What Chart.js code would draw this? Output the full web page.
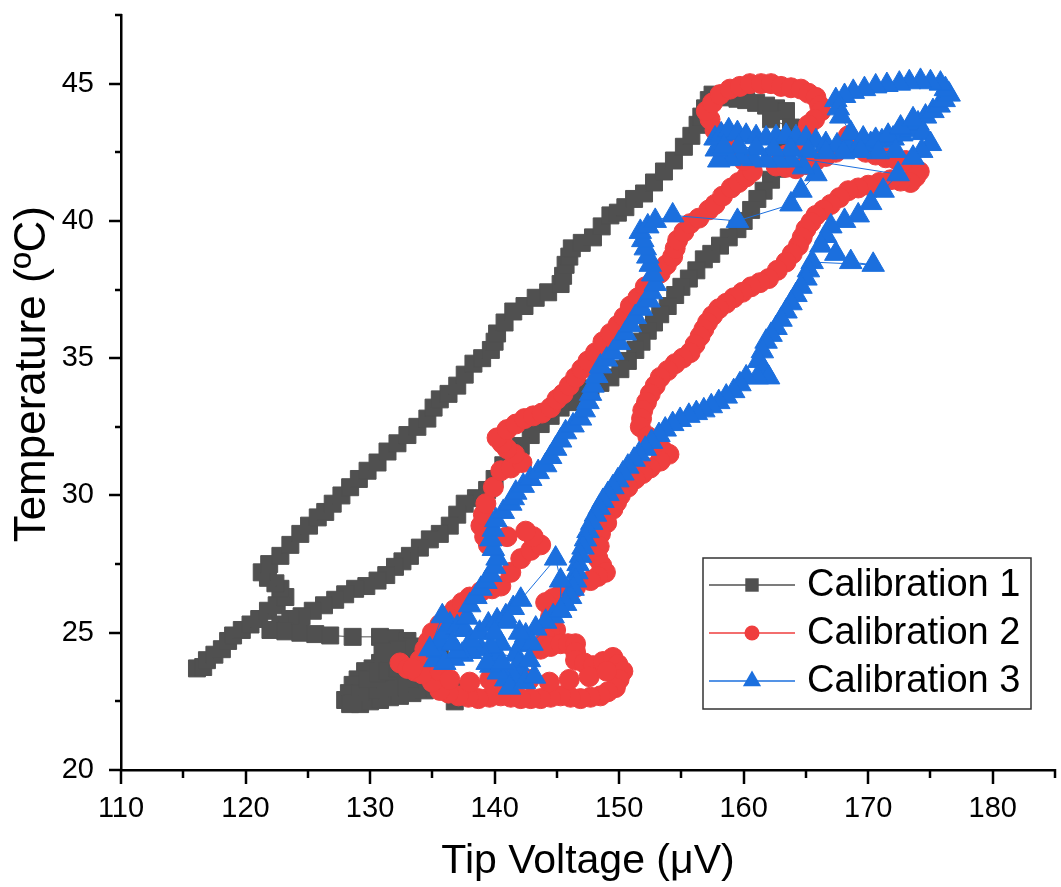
<!DOCTYPE html>
<html>
<head>
<meta charset="utf-8">
<script src="https://cdn.jsdelivr.net/npm/chart.js@4.4.1/dist/chart.umd.min.js"></script>
<style>
  html, body { margin: 0; padding: 0; background: #fff; }
  canvas { display: block; }
</style>
</head>
<body>
<canvas id="calibChart" width="1061" height="887"></canvas>
<script>
// Calibration runs: tip voltage (µV) vs temperature (ºC)
const cal1Volt = [116.1, 116.6, 116.9, 117.5, 118.1, 118.6, 119.0, 119.7, 120.4, 121.1, 121.8, 122.5, 123.2, 122.8, 122.4, 121.8, 121.3, 121.9, 122.8, 123.6, 124.4, 125.1, 125.8, 126.4, 127.0, 127.7, 128.4, 129.1, 129.8, 130.6, 131.4, 132.2, 133.0, 133.8, 134.6, 135.1, 135.6, 136.3, 137.0, 137.6, 138.3, 139.0, 139.7, 140.0, 140.2, 140.8, 141.5, 142.4, 143.3, 144.3, 145.3, 145.5, 145.7, 146.0, 146.2, 147.0, 147.9, 148.6, 149.3, 149.9, 150.5, 151.2, 152.0, 152.8, 153.6, 154.4, 155.2, 155.8, 156.3, 156.6, 156.9, 157.2, 157.5,
    158.2, 158.8, 159.5, 160.2, 161.0, 161.8, 162.6, 163.4, 162.2, 163.8, 163.5, 163.2, 163.0, 162.7,
    162.2, 161.6, 161.1, 160.6, 160.0, 159.5, 158.8, 158.1, 157.4, 156.8, 156.2, 155.6, 155.0, 154.5, 153.9, 153.3, 152.8, 152.3, 151.8, 151.3, 150.7, 150.1, 149.3, 148.5, 147.7, 146.9, 146.1, 145.3, 144.5, 143.7, 142.9, 142.1, 141.4, 140.7, 140.0, 139.4, 138.5, 137.6, 137.0, 136.4, 135.6, 134.8, 134.0, 133.2, 132.6, 132.0, 131.3, 130.6, 129.7, 128.8, 128.0, 127.2, 126.3, 125.4, 124.5, 123.6, 122.8, 122.0, 123.2, 124.4, 125.6, 126.8, 128.6, 130.8,
    132.0, 133.0, 134.0, 134.8, 135.6, 134.0, 132.4, 131.6, 130.8, 130.2, 129.6, 129.0, 128.6, 128.3, 128.0, 128.6, 129.2, 130.0, 130.8, 131.6, 132.4, 133.4, 134.4, 135.2, 136.0, 136.6, 137.2, 136.8, 135.8, 134.8, 134.0, 133.2, 132.4, 131.6, 130.8, 130.0, 129.2, 128.4,
    129.8, 130.6, 131.4, 132.2, 133.0, 133.8, 133.4, 132.2, 131.0];
const cal1Temp = [23.7, 23.75, 24.0, 24.2, 24.4, 24.7, 24.9, 25.1, 25.3, 25.5, 25.8, 26.0, 26.3, 26.6, 26.8, 27.0, 27.2, 27.5, 27.8, 28.2, 28.6, 28.9, 29.2, 29.4, 29.7, 30.0, 30.3, 30.6, 30.9, 31.2, 31.6, 31.9, 32.2, 32.5, 32.8, 33.2, 33.5, 33.7, 34.0, 34.4, 34.8, 35.0, 35.3, 35.6, 35.9, 36.3, 36.7, 36.9, 37.2, 37.4, 37.7, 38.0, 38.4, 38.7, 39.0, 39.2, 39.4, 39.8, 40.2, 40.3, 40.5, 40.8, 41.0, 41.4, 41.8, 42.2, 42.7, 43.1, 43.5, 43.8, 44.1, 44.4, 44.6,
    44.55, 44.5, 44.45, 44.4, 44.3, 44.2, 44.1, 44.0, 43.7, 43.4, 43.0, 42.7, 42.3, 41.9,
    41.5, 41.1, 40.8, 40.4, 40.0, 39.7, 39.4, 39.1, 38.8, 38.6, 38.2, 37.9, 37.6, 37.3, 36.9, 36.6, 36.3, 36.0, 35.6, 35.3, 34.9, 34.6, 34.3, 34.1, 33.9, 33.7, 33.4, 33.2, 32.9, 32.6, 32.2, 31.8, 31.5, 31.1, 30.6, 30.2, 29.9, 29.7, 29.3, 28.9, 28.6, 28.4, 28.1, 27.8, 27.6, 27.4, 27.1, 26.9, 26.7, 26.6, 26.4, 26.2, 26.0, 25.8, 25.6, 25.5, 25.3, 25.1, 25.05, 25.0, 24.95, 24.9, 24.85, 24.85,
    24.8, 24.7, 24.4, 24.3, 24.2, 24.1, 24.2, 24.0, 23.9, 23.7, 23.6, 23.3, 23.1, 22.8, 22.55, 22.45, 22.4, 22.5, 22.55, 22.65, 22.7, 22.8, 22.9, 23.0, 23.1, 22.95, 22.8, 22.5, 23.4, 23.6, 23.45, 23.3, 23.15, 23.0, 22.95, 22.9, 22.8, 22.4,
    23.3, 23.5, 23.6, 23.7, 23.8, 23.9, 24.5, 24.4, 24.3];

const cal2Volt = [132.4, 133.0, 133.6, 134.0, 134.4, 134.7, 135.0, 135.6, 136.2, 136.8, 137.4, 138.0, 138.9, 139.8, 140.5, 141.3, 142.1, 142.9, 143.7, 143.1, 142.5, 141.0, 139.5, 139.2, 138.9, 139.1, 139.3, 139.9, 140.5, 141.3, 142.2, 141.6, 141.0, 140.6, 140.2, 141.0, 141.7, 142.4, 143.1, 143.8, 144.5, 145.0, 145.5, 146.0, 146.5, 147.0, 147.5, 148.1, 148.7, 149.3, 149.9, 150.4, 150.9, 151.5, 152.1, 152.7, 153.3, 153.8, 154.3, 154.5, 154.7, 155.2, 155.7, 156.4, 157.2, 157.7, 158.3, 159.0, 159.6, 160.2, 160.7,
    160.0, 159.3, 158.5, 157.7, 157.3, 157.0, 157.5, 158.1, 158.9, 159.7, 160.5, 161.4, 162.2, 163.0, 163.8, 164.6, 165.2, 165.8, 166.1, 166.2, 165.7, 165.2, 164.7, 164.2, 163.4, 162.6, 163.4, 164.2, 165.0, 165.8, 166.6, 167.4, 168.0, 168.4, 169.1, 169.8, 170.6, 171.4, 172.2, 173.0, 173.6, 174.1,
    173.8, 173.4, 172.6, 171.8, 170.9, 170.0, 169.2, 168.4, 167.7, 167.0, 166.4, 165.8, 165.4, 165.0, 164.7, 164.4, 163.9, 163.4, 162.7, 162.0, 161.3, 160.6, 159.9, 159.2, 158.6, 158.0, 157.5, 157.1, 156.8, 156.5, 156.1, 155.7, 155.1, 154.5, 153.9, 153.3, 152.9, 152.5, 152.2, 151.9, 151.8, 151.7, 152.3, 152.9, 153.5, 154.0, 153.3, 152.5, 151.9, 151.3, 150.7, 150.1, 149.8, 149.5, 149.0, 148.5, 148.4, 148.3, 148.6, 148.9, 148.3, 147.7, 146.5, 145.3, 144.7, 144.1, 144.5, 144.9, 144.5, 144.1, 143.7, 144.5, 145.3, 145.9, 146.5, 146.5, 146.5, 147.2, 147.9, 148.7, 149.5, 149.9, 150.3, 150.0, 149.7, 149.1, 148.5, 147.7, 146.9, 146.1, 145.3, 144.5, 143.7, 142.9, 142.1, 141.3, 140.5, 139.6, 138.7, 137.9, 137.1, 136.3, 135.6, 135.0, 134.2, 133.4,
    134.6, 135.6, 136.4, 138.0, 139.6, 141.2, 142.8, 144.4, 146.0, 147.6, 149.0];
const cal2Temp = [23.9, 23.7, 23.6, 24.0, 24.4, 24.7, 25.0, 25.3, 25.6, 25.85, 26.1, 26.3, 26.5, 26.6, 26.7, 27.2, 27.7, 28.0, 28.2, 28.5, 28.7, 28.5, 28.2, 28.5, 28.9, 29.3, 29.7, 30.3, 30.9, 31.0, 31.2, 31.5, 31.7, 31.9, 32.1, 32.4, 32.6, 32.8, 32.9, 33.0, 33.2, 33.5, 33.7, 34.0, 34.3, 34.6, 34.9, 35.2, 35.6, 35.9, 36.2, 36.5, 36.9, 37.2, 37.6, 37.8, 38.1, 38.4, 38.7, 39.0, 39.3, 39.6, 39.9, 40.1, 40.4, 40.6, 40.9, 41.2, 41.4, 41.6, 41.8,
    42.2, 42.6, 42.9, 43.3, 43.7, 44.0, 44.3, 44.6, 44.8, 44.9, 45.0, 45.0, 45.0, 44.9, 44.85, 44.8, 44.65, 44.5, 44.2, 44.0, 43.7, 43.5, 43.1, 42.8, 42.4, 42.0, 41.95, 41.9, 42.05, 42.2, 42.35, 42.5, 42.8, 43.1, 42.8, 42.5, 42.4, 42.3, 42.25, 42.2, 42.0, 41.8,
    41.6, 41.4, 41.45, 41.5, 41.4, 41.3, 41.2, 41.1, 40.85, 40.6, 40.4, 40.2, 39.95, 39.7, 39.4, 39.1, 38.8, 38.5, 38.2, 37.9, 37.75, 37.6, 37.4, 37.2, 37.0, 36.8, 36.55, 36.3, 36.05, 35.8, 35.5, 35.2, 35.0, 34.8, 34.55, 34.3, 34.0, 33.7, 33.4, 33.1, 32.8, 32.5, 32.15, 31.8, 31.65, 31.5, 31.25, 31.0, 30.8, 30.6, 30.3, 30.0, 29.75, 29.5, 29.0, 28.6, 28.15, 27.7, 27.45, 27.2, 27.05, 26.9, 26.65, 26.4, 26.25, 26.1, 25.6, 25.1, 24.95, 24.8, 24.4, 24.5, 24.6, 24.6, 24.6, 24.3, 24.0, 23.9, 23.8, 23.95, 24.1, 23.85, 23.6, 23.3, 23.0, 22.85, 22.7, 22.65, 22.6, 22.65, 22.7, 22.65, 22.6, 22.6, 22.6, 22.65, 22.7, 22.65, 22.6, 22.65, 22.7, 22.8, 22.9, 23.2, 23.5, 23.7,
    24.2, 23.6, 23.3, 23.2, 23.3, 23.25, 23.3, 23.2, 23.3, 23.4, 23.6];

const cal3Volt = [135.2, 135.4, 135.6, 136.0, 136.4, 137.0, 137.6, 137.8, 138.0, 138.5, 138.9, 139.3, 139.7, 140.0, 140.2, 139.9, 139.7, 139.9, 140.1, 140.7, 141.3, 141.5, 141.7, 142.3, 142.9, 143.5, 144.1, 144.5, 144.9, 145.3, 145.7, 146.3, 146.9, 147.2, 147.5, 147.7, 147.9, 148.2, 148.5, 149.0, 149.5, 150.0, 150.5, 150.9, 151.3, 151.8, 152.4, 152.6, 152.9, 152.7, 152.5, 152.3, 152.1, 151.9, 151.7, 152.3, 152.9, 154.3, 159.5, 163.8, 164.6, 165.8,
    164.8, 163.8, 162.8, 161.8, 160.8, 159.8, 158.9, 158.0, 157.8, 157.7, 158.2, 158.8, 159.5, 160.2, 161.0, 161.8, 162.6, 163.4, 164.2, 165.0, 165.8, 166.6, 167.5, 168.4, 169.3, 170.2, 171.1, 172.0, 172.7, 173.4, 174.0, 174.6, 175.2, 175.7, 176.1, 176.5, 176.2, 175.8, 175.0, 174.2, 173.3, 172.5, 171.5, 170.6, 169.7, 168.8, 168.1, 167.4, 167.6, 167.8, 168.6, 169.6, 170.6, 171.6, 172.6, 173.6, 174.4, 175.0, 174.3, 173.6,
    172.2, 170.8, 169.4, 168.0, 166.6, 165.2, 163.8, 162.4, 161.0, 159.6, 158.4,
    172.4, 171.2, 170.2, 169.2, 168.1, 167.0, 166.6, 166.2, 167.4, 168.6, 170.4, 165.5, 165.2, 165.0, 164.6, 164.2, 163.8, 163.4, 163.0, 162.6, 162.2, 161.8, 161.5, 161.2, 161.6, 162.0, 161.1, 160.2, 159.7, 159.2, 158.6, 158.0, 157.4, 156.8, 156.2, 155.6, 154.9, 154.3, 153.7, 153.2, 152.6, 152.1, 151.6, 151.2, 150.7, 150.3, 149.9, 149.5, 149.1, 148.7, 148.4, 148.1, 147.8, 147.5, 147.3, 147.1, 146.9, 146.7, 146.6, 146.5, 146.3, 146.1, 145.7, 145.3, 144.7, 144.1, 143.3, 142.5, 142.1, 141.7, 141.9, 142.1, 141.5, 140.9, 140.3, 139.7, 140.1, 140.5, 139.7, 138.9, 138.1, 137.4, 136.7, 136.0, 137.0, 138.1, 138.8, 139.5, 140.2, 140.9, 141.5, 142.1, 144.9, 145.3, 145.3,
    143.0, 142.0, 141.0, 140.0, 139.4, 140.6, 141.2, 142.4, 143.2, 142.8, 136.6, 135.8, 134.8];
const cal3Temp = [24.0, 24.35, 24.7, 25.0, 25.3, 25.2, 25.1, 25.55, 26.0, 26.3, 26.6, 26.85, 27.1, 27.4, 27.7, 28.05, 28.4, 28.75, 29.1, 29.4, 29.7, 29.9, 30.1, 30.35, 30.6, 30.85, 31.1, 31.4, 31.7, 32.0, 32.3, 32.55, 32.8, 33.1, 33.4, 33.7, 34.0, 34.35, 34.7, 34.95, 35.2, 35.55, 35.9, 36.2, 36.5, 36.8, 37.1, 37.4, 37.7, 38.05, 38.4, 38.7, 39.0, 39.3, 39.6, 39.8, 40.0, 40.2, 40.0, 40.6, 41.1, 41.7,
    41.95, 42.2, 42.2, 42.2, 42.25, 42.3, 42.25, 42.2, 42.6, 43.0, 43.15, 43.3, 43.2, 43.1, 43.05, 43.0, 43.05, 43.1, 43.05, 43.0, 42.9, 42.8, 42.75, 42.7, 42.75, 42.8, 42.9, 43.0, 43.15, 43.3, 43.55, 43.8, 44.0, 44.2, 44.4, 44.6, 44.8, 45.0, 45.05, 45.1, 45.05, 45.0, 44.95, 44.9, 44.8, 44.7, 44.55, 44.4, 44.1, 43.8, 43.2, 43.0, 42.95, 43.1, 43.4, 43.7, 43.2, 42.8, 42.55, 42.3,
    42.55, 42.5, 42.55, 42.5, 42.5, 42.55, 42.6, 42.6, 42.65, 42.7, 42.7,
    41.7, 41.1, 40.65, 40.2, 40.0, 39.8, 39.45, 39.1, 38.8, 38.5, 38.4, 38.5, 38.2, 37.9, 37.6, 37.3, 37.0, 36.7, 36.4, 36.1, 35.85, 35.6, 35.25, 34.9, 34.6, 34.3, 34.3, 34.3, 34.05, 33.8, 33.6, 33.4, 33.25, 33.1, 33.0, 32.9, 32.75, 32.6, 32.4, 32.2, 31.95, 31.7, 31.5, 31.3, 31.05, 30.8, 30.55, 30.3, 30.05, 29.8, 29.55, 29.3, 29.0, 28.7, 28.4, 28.1, 27.8, 27.5, 27.2, 26.9, 26.6, 26.3, 26.05, 25.8, 25.6, 25.4, 25.15, 24.9, 24.55, 24.2, 23.85, 23.5, 23.4, 23.3, 23.55, 23.8, 24.2, 24.6, 24.5, 24.4, 24.3, 24.2, 24.05, 23.9, 24.3, 24.7, 25.0, 25.3, 25.45, 25.6, 25.9, 26.2, 27.7, 26.9, 25.8,
    24.6, 25.0, 25.4, 25.0, 23.9, 23.9, 23.0, 23.2, 23.4, 24.0, 24.6, 25.6, 24.4];

const seriesNames = ['Calibration 1', 'Calibration 2', 'Calibration 3'];
const xTickValues = [110, 115, 120, 125, 130, 135, 140, 145, 150, 155, 160, 165, 170, 175, 180, 185];
const yTickValues = [20, 22.5, 25, 27.5, 30, 32.5, 35, 37.5, 40, 42.5, 45, 47.5];

const GRAY = '#505050';
const RED = '#ef3e3e';
const BLUE = '#1b6fde';
const FONT = "'Liberation Sans', Arial, sans-serif";

function toPoints(xs, ys) {
    return xs.map((x, i) => ({ x: x, y: ys[i] }));
}

function makeSet(label, xs, ys, color, style, radius, order) {
    return {
        label: label,
        data: toPoints(xs, ys),
        showLine: true,
        borderColor: color,
        borderWidth: 1,
        backgroundColor: color,
        pointBackgroundColor: color,
        pointBorderColor: color,
        pointBorderWidth: 1,
        pointStyle: style,
        pointRadius: radius,
        order: order
    };
}

// ticks drawn by hand: long for labelled values, short for the halves
const axisTicks = {
    id: 'axisTicks',
    afterDraw(chart) {
        const { ctx, scales: { x, y }, chartArea } = chart;
        ctx.save();
        ctx.strokeStyle = '#000';
        ctx.lineWidth = 2.5;
        xTickValues.forEach(v => {
            const px = Math.round(x.getPixelForValue(v));
            const len = v % 10 === 0 ? 14 : 8;
            ctx.beginPath();
            ctx.moveTo(px, chartArea.bottom - 1);
            ctx.lineTo(px, chartArea.bottom + len);
            ctx.stroke();
        });
        yTickValues.forEach(v => {
            const py = Math.round(y.getPixelForValue(v));
            const len = v % 5 === 0 ? 12 : 6;
            ctx.beginPath();
            ctx.moveTo(chartArea.left + 1, py);
            ctx.lineTo(chartArea.left - len, py);
            ctx.stroke();
        });
        ctx.restore();
    }
};

// boxed legend in the lower right, line through each marker
const boxLegend = {
    id: 'boxLegend',
    afterDraw(chart) {
        const ctx = chart.ctx;
        const box = { left: 703, top: 558, width: 328, height: 151 };
        const rows = [585, 633, 681];
        ctx.save();
        ctx.fillStyle = '#fff';
        ctx.fillRect(box.left, box.top, box.width, box.height);
        ctx.strokeStyle = '#333';
        ctx.lineWidth = 1.5;
        ctx.strokeRect(box.left, box.top, box.width, box.height);
        chart.data.datasets.forEach((ds, i) => {
            const cy = rows[i];
            ctx.strokeStyle = ds.borderColor;
            ctx.lineWidth = 1.5;
            ctx.beginPath();
            ctx.moveTo(709, cy);
            ctx.lineTo(795, cy);
            ctx.stroke();
            ctx.fillStyle = ds.pointBackgroundColor;
            ctx.strokeStyle = ds.pointBorderColor;
            Chart.helpers.drawPoint(ctx, {
                pointStyle: ds.pointStyle,
                radius: ds.pointRadius - 2.5,
                borderWidth: 0,
                rotation: 0
            }, 752, cy);
            ctx.fillStyle = '#000';
            ctx.font = '38px ' + FONT;
            ctx.textAlign = 'left';
            ctx.textBaseline = 'middle';
            ctx.fillText(ds.label, 807, cy + 1);
        });
        ctx.restore();
    }
};

const whiteBg = {
    id: 'whiteBg',
    beforeDraw(chart) {
        const ctx = chart.ctx;
        ctx.save();
        ctx.fillStyle = '#fff';
        ctx.fillRect(0, 0, chart.width, chart.height);
        ctx.restore();
    }
};

function noEdgePadding(scale) {
    scale.paddingTop = 0;
    scale.paddingBottom = 0;
    scale.paddingLeft = 0;
    scale.paddingRight = 0;
}

new Chart(document.getElementById('calibChart'), {
    type: 'scatter',
    data: {
        datasets: [
            makeSet(seriesNames[0], cal1Volt, cal1Temp, GRAY, 'rect', 12, 3),
            makeSet(seriesNames[1], cal2Volt, cal2Temp, RED, 'circle', 10, 2),
            makeSet(seriesNames[2], cal3Volt, cal3Temp, BLUE, 'triangle', 13, 1)
        ]
    },
    options: {
        responsive: false,
        animation: false,
        layout: { autoPadding: false, padding: { top: 15, right: 6, left: 0, bottom: 0 } },
        plugins: {
            legend: { display: false },
            tooltip: { enabled: false }
        },
        scales: {
            x: {
                type: 'linear',
                min: 110,
                max: 185,
                grid: { display: false, drawTicks: false },
                border: { display: true, color: '#000', width: 2.5 },
                ticks: {
                    stepSize: 10,
                    includeBounds: false,
                    padding: 22,
                    color: '#000',
                    font: { family: FONT, size: 29 }
                },
                title: {
                    display: true,
                    text: 'Tip Voltage (μV)',
                    color: '#000',
                    font: { family: FONT, size: 41 },
                    padding: { top: 0, bottom: 1 }
                },
                afterFit(scale) { scale.height = 117; noEdgePadding(scale); }
            },
            y: {
                type: 'linear',
                min: 20,
                max: 47.5,
                grid: { display: false, drawTicks: false },
                border: { display: true, color: '#000', width: 2.5 },
                ticks: {
                    stepSize: 5,
                    includeBounds: false,
                    padding: 27,
                    color: '#000',
                    font: { family: FONT, size: 29 }
                },
                title: {
                    display: true,
                    text: '   Temperature (ºC)',
                    color: '#000',
                    font: { family: FONT, size: 44 },
                    padding: { top: 6, bottom: 0 }
                },
                afterFit(scale) { scale.width = 121; noEdgePadding(scale); }
            }
        }
    },
    plugins: [whiteBg, axisTicks, boxLegend]
});
</script>
</body>
</html>
